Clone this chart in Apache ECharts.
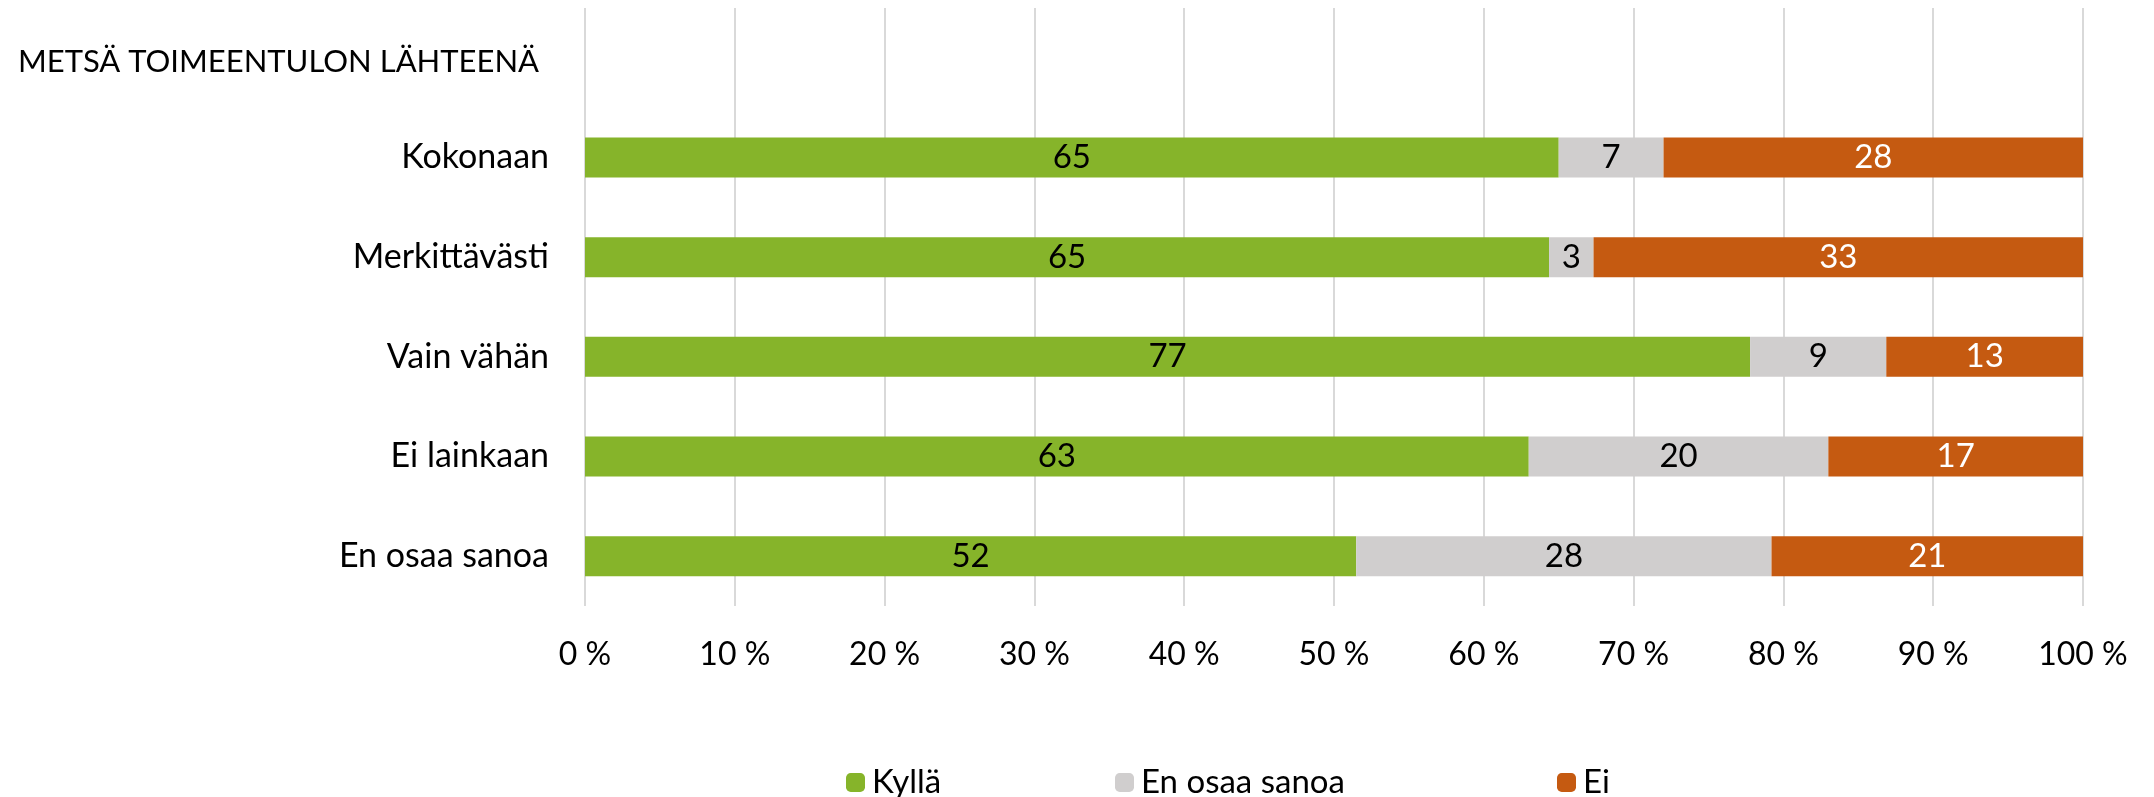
<!DOCTYPE html>
<html>
<head>
<meta charset="utf-8">
<script src="https://cdn.jsdelivr.net/npm/echarts@6/dist/echarts.min.js"></script>
<style>
  html, body { margin: 0; padding: 0; background: #fff; }
  #chart { width: 2154px; height: 797px; }
</style>
</head>
<body>
<div id="chart"></div>
<script>
// otsikko ja luokat
const chartTitle = "METSÄ TOIMEENTULON LÄHTEENÄ";
const categories = ["Kokonaan", "Merkittävästi", "Vain vähän", "Ei lainkaan", "En osaa sanoa"];
const seriesNames = ["Kyllä", "En osaa sanoa", "Ei"];
// arvot (%), pyöristetty kuten kuvassa
const kylla = [65, 65, 77, 63, 52];
const eos = [7, 3, 9, 20, 28];
const ei = [28, 33, 13, 17, 21];
const xTicks = [0, 10, 20, 30, 40, 50, 60, 70, 80, 90, 100];

const colors = ["#86B42A", "#D0CECE", "#C55A11"];
const labelColors = ["#000", "#000", "#fff"];
const FONT = "Lato, 'Open Sans', sans-serif";
const raw = [kylla, eos, ei];

// 100 % pinottu: normalisoidaan rivisummaan
const totals = categories.map((c, i) => kylla[i] + eos[i] + ei[i]);

const chart = echarts.init(document.getElementById("chart"));

const series = raw.map((arr, s) => ({
  name: seriesNames[s],
  type: "bar",
  stack: "total",
  barWidth: 40,
  itemStyle: { color: colors[s] },
  // ensimmäinen tyhjä rivi otsikkoa varten
  data: [null].concat(arr.map((v, i) => v / totals[i] * 100)),
  label: {
    show: true,
    position: "inside",
    color: labelColors[s],
    fontFamily: FONT,
    fontSize: 33,
    formatter: p => (p.dataIndex > 0 ? String(arr[p.dataIndex - 1]) : "")
  }
}));

const legendX = [841, 1110, 1552];

chart.setOption({
  animation: false,
  title: {
    text: chartTitle,
    left: 13,
    top: 41,
    textStyle: { fontFamily: FONT, fontSize: 31, fontWeight: "normal", color: "#000" }
  },
  legend: seriesNames.map((n, i) => ({
    data: [n],
    left: legendX[i],
    top: 761,
    itemWidth: 19,
    itemHeight: 19,
    itemGap: 0,
    textStyle: { fontFamily: FONT, fontSize: 33, color: "#000", padding: [0, 0, 0, 2] }
  })),
  grid: { left: 585, right: 71, top: 8, height: 598, containLabel: false },
  xAxis: {
    type: "value",
    min: 0,
    max: 100,
    interval: 10,
    axisLine: { show: false },
    axisTick: { show: false },
    splitLine: { show: true, lineStyle: { color: "#D9D9D9", width: 2 } },
    axisLabel: {
      margin: 33,
      fontFamily: FONT,
      fontSize: 32,
      color: "#000",
      formatter: v => (xTicks.indexOf(v) >= 0 ? v + " %" : "")
    }
  },
  yAxis: {
    type: "category",
    inverse: true,
    data: [""].concat(categories),
    axisLine: { show: false },
    axisTick: { show: false },
    axisLabel: { margin: 36, fontFamily: FONT, fontSize: 34, color: "#000" }
  },
  series: series
});
</script>
</body>
</html>
